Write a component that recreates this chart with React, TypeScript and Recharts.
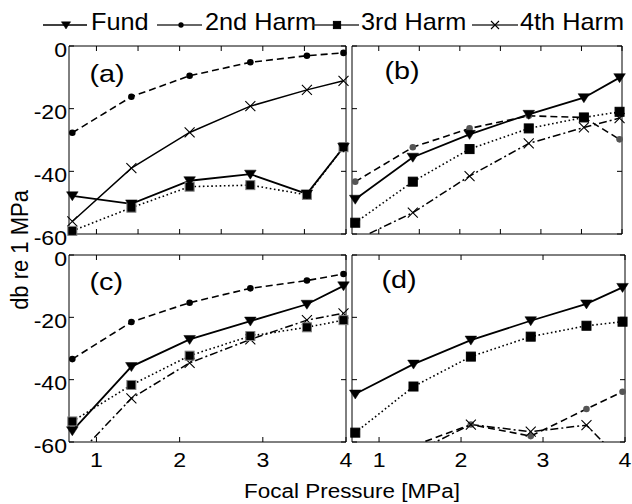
import React from 'react';
import { LineChart, Line, XAxis, YAxis } from 'recharts';

// ---------- data ----------
const xPressure = [0.71, 1.42, 2.12, 2.85, 3.53, 3.97];

const fundA = [-47.8, -50.4, -43.0, -40.9, -47.2, -32.3];
const harm2A = [-27.7, -16.2, -9.5, -5.2, -3.1, -2.2];
const harm3A = [-59.0, -51.6, -44.9, -44.4, -47.5, -32.3];
const harm4A = [-56.0, -39.0, -27.6, -19.2, -14.0, -11.1];

const fundB = [-48.9, -35.5, -28.2, -21.8, -16.5, -10.1];
const harm2B = [-43.3, -32.3, -26.3, -22.3, -22.8, -29.8];
const harm3B = [-56.4, -43.3, -32.9, -26.3, -22.8, -21.0];
const harm4B = [-62.0, -53.2, -41.5, -31.1, -26.0, -23.0];

const fundC = [-56.4, -35.8, -27.1, -21.2, -15.8, -9.9];
const harm2C = [-33.4, -21.5, -15.3, -10.7, -8.2, -6.1];
const harm3C = [-53.4, -41.7, -32.3, -26.0, -23.2, -20.9];
const harm4C = [-66.0, -46.0, -34.6, -27.1, -20.9, -18.7];

const fundD = [-44.6, -35.0, -27.3, -21.1, -15.7, -10.4];
const harm2D = [-70.0, -61.2, -54.4, -58.1, -49.4, -43.9];
const harm3D = [-57.0, -42.2, -32.6, -26.2, -22.7, -21.4];
const harm4D = [-72.0, -63.5, -54.4, -56.7, -54.6, -66.4];

const yTicks = [-60, -40, -20, 0];
const halfTicks = [1, 1.5, 2, 2.5, 3, 3.5, 4];
const intTicks = [1, 2, 3, 4];
const xDomain = [0.67, 4];
const yDomain = [-60, 0];

const legendLabels = ['Fund', '2nd Harm', '3rd Harm', '4th Harm'];
const panelLabels = ['(a)', '(b)', '(c)', '(d)'];
const xTitle = 'Focal Pressure [MPa]';
const yTitle = 'db re 1 MPa';

// ---------- helpers ----------
const FONT = '"Liberation Sans", Arial, Helvetica, sans-serif';
const inRange = (v: number) => (v >= -60 && v <= 0 ? v : null);

function buildRows(f: number[], h2: number[], h3: number[], h4: number[]) {
  return xPressure.map((x, i) => ({
    x,
    fund: f[i], h2: h2[i], h3: h3[i], h4: h4[i],
    fundM: inRange(f[i]), h2M: inRange(h2[i]), h3M: inRange(h3[i]), h4M: inRange(h4[i]),
  }));
}

type Kind = 'tri' | 'dot' | 'sq' | 'x';

function markerShape(kind: Kind, cx: number, cy: number, key: any, opts: { fill?: string; stroke?: string; s?: number }) {
  const s = opts.s ?? 1;
  if (kind === 'tri') {
    const hw = 5.8 * s, up = 4 * s, dn = 5 * s;
    return <path key={key} d={`M${cx - hw},${cy - up}L${cx + hw},${cy - up}L${cx},${cy + dn}Z`} fill="#000" stroke="#000" strokeWidth={0.5} />;
  }
  if (kind === 'dot') {
    return <circle key={key} cx={cx} cy={cy} r={3.3 * s} fill={opts.fill || '#000'} stroke="none" />;
  }
  if (kind === 'sq') {
    const h = 4.5 * s;
    return <rect key={key} x={cx - h} y={cy - h} width={2 * h} height={2 * h} fill="#000" stroke={opts.stroke || '#000'} strokeWidth={1} />;
  }
  const h = 5 * s;
  return (
    <path key={key} d={`M${cx - h},${cy - h}L${cx + h},${cy + h}M${cx - h},${cy + h}L${cx + h},${cy - h}`} stroke="#000" strokeWidth={1.1} fill="none" />
  );
}

const dotFactory = (field: string, kind: Kind, opts: { fill?: string; stroke?: string }) => (p: any) => {
  const v = p.payload ? p.payload[field] : null;
  if (v == null || p.cx == null || p.cy == null) return <g key={`e-${p.index}`} />;
  return markerShape(kind, p.cx, p.cy, `m-${p.index}`, opts);
};

const txt = (x: number, y: number, s: string, size: number, anchor: string, sx = 1.1) => (
  <text transform={`translate(${x},${y}) scale(${sx},1)`} x={0} y={0} textAnchor={anchor as any} fontSize={size} fontFamily={FONT} fill="#000">
    {s}
  </text>
);

const BottomTick = (showLabel: boolean) => (p: any) => {
  const { x, y, payload } = p;
  const v = payload.value;
  return (
    <g>
      <line x1={x} y1={y} x2={x} y2={y - 5} stroke="#000" strokeWidth={1} />
      {showLabel && Number.isInteger(v) ? txt(x, y + 25, String(v), 21, 'middle') : null}
    </g>
  );
};
const TopTick = (p: any) => <line x1={p.x} y1={p.y} x2={p.x} y2={p.y + 5} stroke="#000" strokeWidth={1} />;
const LeftTick = (showLabel: boolean) => (p: any) => {
  const { x, y, payload } = p;
  return (
    <g>
      <line x1={x} y1={y} x2={x + 5} y2={y} stroke="#000" strokeWidth={1} />
      {showLabel ? txt(x - 2, y + 10.5, String(payload.value), 21, 'end') : null}
    </g>
  );
};
const RightTick = (p: any) => <line x1={p.x} y1={p.y} x2={p.x - 5} y2={p.y} stroke="#000" strokeWidth={1} />;

type Panel = {
  rows: any[];
  left: number; right: number; top: number; bottom: number;
  xTicks: number[];
  showX: boolean; showY: boolean;
  h4Solid: boolean;
  dotFill: string;
  sqStroke: string;
};

const panels: Panel[] = [
  { rows: buildRows(fundA, harm2A, harm3A, harm4A), left: 69, right: 346, top: 46, bottom: 234, xTicks: halfTicks, showX: false, showY: true, h4Solid: true, dotFill: '#000', sqStroke: '#808080' },
  { rows: buildRows(fundB, harm2B, harm3B, harm4B), left: 352, right: 622, top: 46, bottom: 234, xTicks: halfTicks, showX: false, showY: false, h4Solid: false, dotFill: '#555', sqStroke: '#000' },
  { rows: buildRows(fundC, harm2C, harm3C, harm4C), left: 69, right: 346, top: 255, bottom: 442, xTicks: intTicks, showX: true, showY: true, h4Solid: false, dotFill: '#000', sqStroke: '#808080' },
  { rows: buildRows(fundD, harm2D, harm3D, harm4D), left: 352, right: 625, top: 255, bottom: 442, xTicks: intTicks, showX: true, showY: false, h4Solid: false, dotFill: '#555', sqStroke: '#000' },
];

const W = 632;
const H = 504;
const AX = 1; // thickness reserved for each axis band

function PanelChart({ p }: { p: Panel }) {
  const axisLine = { stroke: '#000', strokeWidth: 1 };
  return (
    <div style={{ position: 'absolute', left: 0, top: 0 }}>
      <LineChart
        width={W}
        height={H}
        data={p.rows}
        margin={{ left: p.left - AX, right: W - p.right - AX, top: p.top - AX, bottom: H - p.bottom - AX }}
      >
        <XAxis xAxisId="b" dataKey="x" type="number" domain={xDomain} ticks={p.xTicks} interval={0} height={AX}
          tickSize={0} tickMargin={0} tickLine={false} axisLine={axisLine} tick={BottomTick(p.showX)} />
        <XAxis xAxisId="t" orientation="top" dataKey="x" type="number" domain={xDomain} ticks={p.xTicks} interval={0} height={AX}
          tickSize={0} tickMargin={0} tickLine={false} axisLine={axisLine} tick={TopTick} />
        <YAxis yAxisId="l" type="number" domain={yDomain} allowDataOverflow ticks={yTicks} interval={0} width={AX}
          tickSize={0} tickMargin={0} tickLine={false} axisLine={axisLine} tick={LeftTick(p.showY)} />
        <YAxis yAxisId="r" orientation="right" type="number" domain={yDomain} ticks={yTicks} interval={0} width={AX}
          tickSize={0} tickMargin={0} tickLine={false} axisLine={axisLine} tick={RightTick} />

        <Line xAxisId="b" yAxisId="l" dataKey="h2" stroke="#000" strokeWidth={1.6} strokeDasharray="7 4" dot={false} activeDot={false} isAnimationActive={false} />
        <Line xAxisId="b" yAxisId="l" dataKey="h4" stroke="#000" strokeWidth={1.5} strokeDasharray={p.h4Solid ? undefined : '8 3 2 3'} dot={false} activeDot={false} isAnimationActive={false} />
        <Line xAxisId="b" yAxisId="l" dataKey="h3" stroke="#000" strokeWidth={1.6} strokeDasharray="1.6 2.6" dot={false} activeDot={false} isAnimationActive={false} />
        <Line xAxisId="b" yAxisId="l" dataKey="fund" stroke="#000" strokeWidth={1.8} dot={false} activeDot={false} isAnimationActive={false} />

        <Line xAxisId="t" yAxisId="r" dataKey="h2M" stroke="none" dot={dotFactory('h2M', 'dot', { fill: p.dotFill })} activeDot={false} isAnimationActive={false} />
        <Line xAxisId="t" yAxisId="r" dataKey="h4M" stroke="none" dot={dotFactory('h4M', 'x', {})} activeDot={false} isAnimationActive={false} />
        <Line xAxisId="t" yAxisId="r" dataKey="h3M" stroke="none" dot={dotFactory('h3M', 'sq', { stroke: p.sqStroke })} activeDot={false} isAnimationActive={false} />
        <Line xAxisId="t" yAxisId="r" dataKey="fundM" stroke="none" dot={dotFactory('fundM', 'tri', {})} activeDot={false} isAnimationActive={false} />
      </LineChart>
    </div>
  );
}

const legendItems: { kind: Kind; x1: number; x2: number; mx: number; tx: number; color: string }[] = [
  { kind: 'tri', x1: 43, x2: 87, mx: 66, tx: 91, color: '#000' },
  { kind: 'dot', x1: 157, x2: 202, mx: 181, tx: 205, color: '#333' },
  { kind: 'sq', x1: 313, x2: 359, mx: 337, tx: 361, color: '#333' },
  { kind: 'x', x1: 472, x2: 518, mx: 495, tx: 520, color: '#333' },
];

const labelPos = [
  { x: 89.5, y: 82 },
  { x: 384.5, y: 79 },
  { x: 89.5, y: 290 },
  { x: 381.5, y: 288 },
];

export default function App() {
  return (
    <div style={{ position: 'absolute', left: 0, top: 0, width: W, height: H, background: '#fff', overflow: 'hidden' }}>
      {panels.map((p, i) => (
        <PanelChart key={i} p={p} />
      ))}
      <svg width={W} height={H} style={{ position: 'absolute', left: 0, top: 0, pointerEvents: 'none' }}>
        {legendItems.map((it, i) => (
          <g key={i}>
            <line x1={it.x1} y1={25} x2={it.x2} y2={25} stroke={it.color} strokeWidth={1.3} />
            {markerShape(it.kind, it.mx, 25, `lm${i}`, { s: 0.8, fill: '#000', stroke: '#000' })}
            {txt(it.tx, 30, legendLabels[i], 23, 'start')}
          </g>
        ))}
        {labelPos.map((lp, i) => (
          <g key={`pl${i}`}>{txt(lp.x, lp.y, panelLabels[i], 24, 'start', 1.2)}</g>
        ))}
        {txt(352, 498, xTitle, 21, 'middle', 1.07)}
        <text transform="translate(28,250) scale(1.1,1) rotate(-90)" textAnchor="middle" fontSize={22} fontFamily={FONT} fill="#000">
          {yTitle}
        </text>
      </svg>
    </div>
  );
}
